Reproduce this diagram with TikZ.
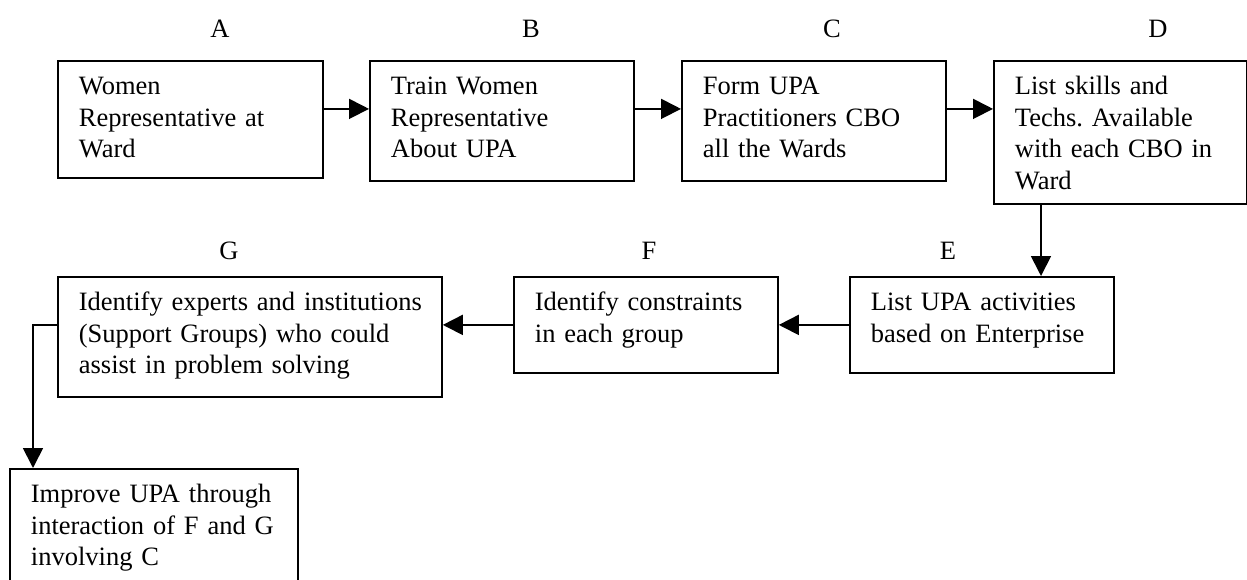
\documentclass[tikz,border=0pt]{standalone}
\usepackage{fontspec}
\setmainfont{Liberation Serif}
\usepackage{tikz}
\usetikzlibrary{arrows.meta, calc, positioning}
\frenchspacing

\begin{document}
\begin{tikzpicture}[x=1pt, y=-1pt,
		box/.style={draw, line width=1.8pt, anchor=north west, align=left, inner xsep=21pt, inner ysep=0pt, text height=34pt, font=\fontsize{26.5}{31.5}\selectfont},
		lbl/.style={anchor=base, inner sep=0pt, font=\fontsize{26.5}{31.5}\selectfont},
		arr/.style={line width=1.8pt, -{Triangle[length=20pt, width=20pt]}}]
		\useasboundingbox (0,0) rectangle (1247,580);
		
		% Top row
		\node[box, text width=223pt, text depth=83pt] (A) at (57,60) {Women\\Representative at\\Ward};
		\node[box, text width=222pt, text depth=86pt] (B) at (369,60) {Train Women\\Representative\\About UPA};
		\node[box, text width=222pt, text depth=86pt] (C) at (681,60) {Form UPA\\Practitioners CBO\\all the Wards};
		\node[box, text width=211pt, text depth=109pt] (D) at (993,60) {List skills and\\Techs. Available\\with each CBO in\\Ward};
		\node[lbl] (labA) at (220,37.5) {A};
		\node[lbl] (labB) at (531,37.5) {B};
		\node[lbl] (labC) at (832,37.5) {C};
		\node[lbl] (labD) at (1158,37.5) {D};
		
		% Second row
		\node[box, text width=222pt, text depth=62pt] (E) at (849,276) {List UPA activities\\based on Enterprise};
		\node[box, text width=222pt, text depth=62pt] (F) at (513,276) {Identify constraints\\in each group};
		\node[box, text width=342pt, text depth=86pt] (G) at (57,276) {\mbox{Identify experts and institutions}\\(Support Groups) who could\\assist in problem solving};
		\node[lbl] (labE) at (948,259) {E};
		\node[lbl] (labF) at (649,259) {F};
		\node[lbl] (labG) at (229,259) {G};
		
		% Last box
		\node[box, text width=246pt, text depth=106pt] (H) at (9,468) {Improve UPA through\\interaction of F and G\\involving C};
		
		% Arrows
		\draw[arr] ([yshift=-14pt]A.base east) -- ([yshift=-14pt]B.base west);
		\draw[arr] ([yshift=-14pt]B.base east) -- ([yshift=-14pt]C.base west);
		\draw[arr] ([yshift=-14pt]C.base east) -- ([yshift=-14pt]D.base west);
		\coordinate (dDown) at ($(D.south west)+(48,0)$);
		\draw[arr] (dDown) -- (dDown |- E.north);
		\draw[arr] ([yshift=-14pt]E.base west) -- ([yshift=-14pt]F.base east);
		\draw[arr] ([yshift=-14pt]F.base west) -- ([yshift=-14pt]G.base east);
		\draw[arr] ([yshift=-14pt]G.base west) -| ([xshift=24pt]H.north west);
	\end{tikzpicture}
\end{document}
